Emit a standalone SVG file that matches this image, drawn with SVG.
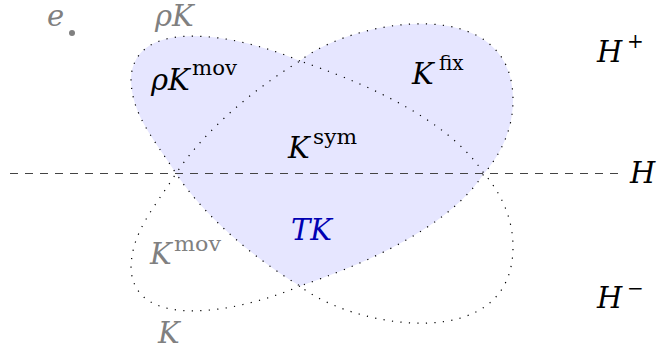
<svg xmlns="http://www.w3.org/2000/svg" width="660" height="352" viewBox="0 0 660 352">
<style>
text{font-family:'DejaVu Serif',serif}
.m{font-style:italic;font-size:29px}
.s{font-style:normal;font-size:20px}
.g{fill:#808080}
.k{fill:#000}
.b{fill:#0000b3}
.dot{fill:none;stroke:#000;stroke-width:1.2;stroke-dasharray:1.2 7.3}
</style>
<defs>
<path id="Kpath" d="M300,286 C240,312 135,332 131,269 C131,232 155,207 176,173.5 C205,130 255,88 300,61 C350,20 513,-10 513,100 C513,130 500,155 484,173.5 C445,232 355,267 300,286 Z"/>
</defs>
<g id="TK-region">
<path d="M300,61 C240,35 135,15 131,78 C131,115 155,140 176,173.5 C205,217 255,259 300,286 C355,267 445,232 484,173.5 C500,155 513,130 513,100 C513,-10 350,20 300,61 Z" fill="#e6e6ff" stroke="none"/>
</g>
<g id="connectors">
<use id="K" href="#Kpath" class="dot"/>
<use id="rhoK" href="#Kpath" class="dot" transform="matrix(1 0 0 -1 0 347)"/>
<line id="H-line" x1="10" y1="173.5" x2="622" y2="173.5" stroke="#444" stroke-width="1.2" stroke-dasharray="8 7"/>
</g>
<g id="e-point">
<circle cx="72" cy="33" r="3" fill="#808080"/>
<text class="m g" x="47" y="26">e</text>
</g>
<g id="labels">
<text class="m g" x="155" y="26">ρK</text>
<text class="m k" x="151" y="90">ρK</text><text class="s k" x="192" y="75" textLength="45" lengthAdjust="spacingAndGlyphs">mov</text>
<text class="m k" x="412" y="84">K</text><text class="s k" x="439" y="70">fix</text>
<text class="m k" x="288" y="158">K</text><text class="s k" x="313" y="144" textLength="44" lengthAdjust="spacingAndGlyphs">sym</text>
<text class="m b" x="291" y="240">TK</text>
<text class="m g" x="150" y="264">K</text><text class="s g" x="174" y="251" textLength="47" lengthAdjust="spacingAndGlyphs">mov</text>
<text class="m g" x="158" y="343">K</text>
<text class="m k" x="597" y="62">H</text><text class="s k" x="627" y="48">+</text>
<text class="m k" x="597" y="308">H</text><text class="s k" x="627" y="295">−</text>
<text class="m k" x="630" y="183">H</text>
</g>
</svg>
